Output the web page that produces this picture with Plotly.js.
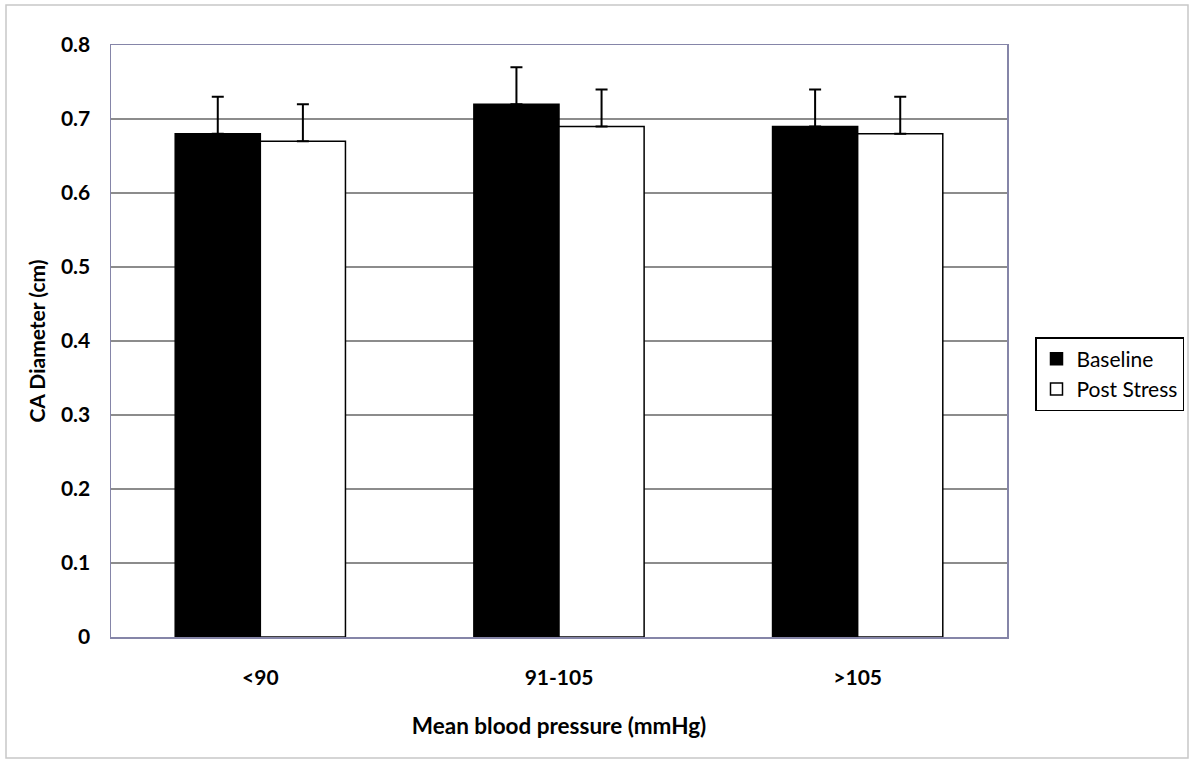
<!DOCTYPE html>
<html><head><meta charset="utf-8">
<script src="https://cdn.plot.ly/plotly-3.0.1.min.js"></script>
<style>body{margin:0;background:#fff}#c{width:1200px;height:766px}</style>
</head><body><div id="c"></div>
<script>
const categories = ['<90', '91-105', '>105'];
const baseline = [0.68, 0.72, 0.69];
const baselineErr = [0.05, 0.05, 0.05];
const postStress = [0.67, 0.69, 0.68];
const postStressErr = [0.05, 0.05, 0.05];
const yTicks = [0, 0.1, 0.2, 0.3, 0.4, 0.5, 0.6, 0.7, 0.8];
const yTickText = ['0', '0.1', '0.2', '0.3', '0.4', '0.5', '0.6', '0.7', '0.8'];

const W = 1200, H = 766, L = 111, R = 193, T = 45, B = 129;
const pw = W - L - R, ph = H - T - B;
const px = x => (x - L) / pw;
const py = y => 1 - (y - T) / ph;
const font = 'Lato, "Open Sans", sans-serif';

const traces = [
  {type: 'bar', name: 'Baseline', x: categories, y: baseline,
   marker: {color: '#000000', line: {color: '#000000', width: 1.5}},
   error_y: {type: 'data', array: baselineErr, symmetric: false, arrayminus: [0,0,0], color: '#000000', thickness: 2, width: 6}},
  {type: 'bar', name: 'Post Stress', x: categories, y: postStress,
   marker: {color: '#ffffff', line: {color: '#000000', width: 1.5}},
   error_y: {type: 'data', array: postStressErr, symmetric: false, arrayminus: [0,0,0], color: '#000000', thickness: 2, width: 6}}
];

const layout = {
  width: W, height: H,
  margin: {l: L, r: R, t: T, b: B},
  paper_bgcolor: '#ffffff', plot_bgcolor: '#ffffff',
  barmode: 'group', bargap: 0.43, bargroupgap: 0,
  showlegend: true,
  font: {family: font, color: '#000'},
  legend: {x: px(1035), y: py(337), xanchor: 'left', yanchor: 'top',
    bordercolor: '#000', borderwidth: 1.5, bgcolor: '#fff',
    font: {family: font, size: 21, color: '#000'}, itemwidth: 20},
  xaxis: {tickfont: {family: font, size: 21, color: '#000', weight: 'bold'},
    showline: true, linecolor: '#8585a8', linewidth: 1.5, mirror: true,
    ticks: '', ticklabelstandoff: 21,
    title: {text: '<b>Mean blood pressure (mmHg)</b>', font: {family: font, size: 22.5, color: '#000'}, standoff: 30}},
  yaxis: {range: [0, 0.8], tickvals: yTicks, ticktext: yTickText,
    tickfont: {family: font, size: 21, color: '#000', weight: 'bold'},
    showline: true, linecolor: '#8585a8', linewidth: 1.5, mirror: true,
    showgrid: true, gridcolor: '#8c8c8c', gridwidth: 1.5, zeroline: false,
    ticks: '', ticklabelstandoff: 15,
    title: {text: '<b>CA Diameter (cm)</b>', font: {family: font, size: 21, color: '#000'}, standoff: 9}},
  shapes: [
    {type: 'rect', xref: 'paper', yref: 'paper', x0: px(6), x1: px(1188), y0: py(5), y1: py(758),
     line: {color: '#c8c8c8', width: 1.5}, fillcolor: 'rgba(0,0,0,0)', layer: 'below'}
  ]
};

Plotly.newPlot('c', traces, layout, {displayModeBar: false, staticPlot: true});
</script></body></html>
